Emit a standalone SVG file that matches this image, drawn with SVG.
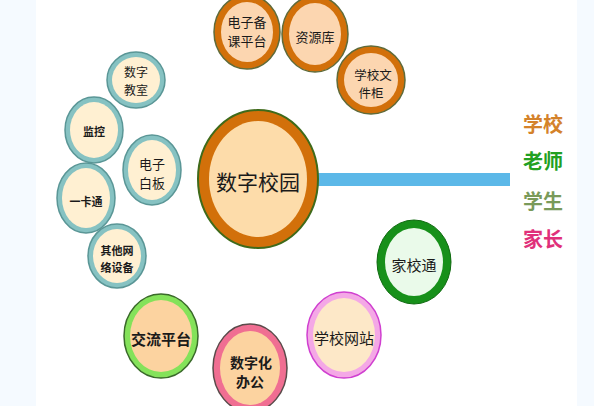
<svg xmlns="http://www.w3.org/2000/svg" width="594" height="406" viewBox="0 0 594 406">
<style>
text{font-family:"Noto Sans CJK SC","Noto Sans",sans-serif;text-anchor:middle;dominant-baseline:central;fill:#1a1a1a}
.o1{fill:#d2700a;stroke:#5f6b3a;stroke-width:1.5}
.o2{fill:#fcd6b0}
.t1{fill:#86c2c2;stroke:#5a9696;stroke-width:1.5}
.t2{fill:#fff0d2}
.s13{font-size:13px}
.b{font-weight:bold}
.lab{font-size:20px;font-weight:bold}
</style>
<rect x="0" y="0" width="594" height="406" fill="#ffffff"/>
<rect x="0" y="0" width="36" height="406" fill="#f5faff"/>
<rect x="577" y="0" width="17" height="406" fill="#f5faff"/>
<g id="connectors">
<rect x="314" y="173" width="196" height="13" fill="#5cb8e8"/>
</g>
<g id="center">
<ellipse cx="258" cy="179" rx="60" ry="69" fill="#d2700a" stroke="#3f6a1a" stroke-width="2"/>
<ellipse cx="258" cy="179" rx="49" ry="58" fill="#fddcaa"/>
<text x="258" y="181" style="font-size:21px">数字校园</text>
</g>
<g id="n-beike">
<ellipse class="o1" cx="247" cy="32" rx="33" ry="37"/>
<ellipse class="o2" cx="247" cy="32" rx="26" ry="30"/>
<text x="247" y="21" style="font-size:13px">电子备</text>
<text x="247" y="40" style="font-size:13px">课平台</text>
</g>
<g id="n-ziyuan">
<ellipse class="o1" cx="315" cy="34" rx="33" ry="38"/>
<ellipse class="o2" cx="315" cy="34" rx="26" ry="31"/>
<text class="s13" x="315" y="36">资源库</text>
</g>
<g id="n-wenjian">
<ellipse class="o1" cx="371" cy="80" rx="34" ry="34"/>
<ellipse class="o2" cx="371" cy="80" rx="27" ry="27"/>
<text x="373" y="74" style="font-size:12.5px">学校文</text>
<text x="371" y="92" style="font-size:12.5px">件柜</text>
</g>
<g id="n-jiaoshi">
<ellipse class="t1" cx="136" cy="80" rx="29" ry="28"/>
<ellipse class="t2" cx="136" cy="80" rx="24" ry="23"/>
<text x="136" y="71" style="font-size:12px">数字</text>
<text x="136" y="89" style="font-size:12px">教室</text>
</g>
<g id="n-jiankong">
<ellipse class="t1" cx="94" cy="130" rx="29" ry="33"/>
<ellipse class="t2" cx="94" cy="130" rx="24" ry="28"/>
<text class="b" x="94" y="131" style="font-size:11px">监控</text>
</g>
<g id="n-baiban">
<ellipse class="t1" cx="152" cy="170" rx="29" ry="35"/>
<ellipse class="t2" cx="152" cy="170" rx="24" ry="30"/>
<text x="152" y="163" style="font-size:13px">电子</text>
<text x="152" y="182" style="font-size:13px">白板</text>
</g>
<g id="n-yikatong">
<ellipse class="t1" cx="86" cy="198" rx="29" ry="35"/>
<ellipse class="t2" cx="86" cy="198" rx="24" ry="30"/>
<text class="b" x="86" y="201" style="font-size:11px">一卡通</text>
</g>
<g id="n-qita">
<ellipse class="t1" cx="117" cy="256" rx="29" ry="32"/>
<ellipse class="t2" cx="117" cy="256" rx="24" ry="27"/>
<text class="b" x="117" y="250" style="font-size:11px">其他网</text>
<text class="b" x="117" y="267" style="font-size:11px">络设备</text>
</g>
<g id="n-jiaoliu">
<ellipse cx="161" cy="336" rx="37" ry="42" fill="#84e25a" stroke="#3a6a2a" stroke-width="1.5"/>
<ellipse cx="161" cy="336" rx="31" ry="36" fill="#fcd3a0"/>
<text class="b" x="161" y="338" style="font-size:15px">交流平台</text>
</g>
<g id="n-bangong">
<ellipse cx="250" cy="368" rx="37" ry="44" fill="#f06e92" stroke="#5a4a4a" stroke-width="1.5"/>
<ellipse cx="250" cy="368" rx="30" ry="37" fill="#fcd3a0"/>
<text class="b" x="251" y="362" style="font-size:14px">数字化</text>
<text class="b" x="250" y="381" style="font-size:14px">办公</text>
</g>
<g id="n-wangzhan">
<ellipse cx="344" cy="335" rx="37" ry="43" fill="#f4a8e6" stroke="#d040d0" stroke-width="1.5"/>
<ellipse cx="344" cy="335" rx="31" ry="37" fill="#fde8c8"/>
<text x="344" y="337" style="font-size:15px">学校网站</text>
</g>
<g id="n-jiaxiaotong">
<ellipse cx="414" cy="262" rx="37" ry="42" fill="#17901a" stroke="#0f6a10" stroke-width="1"/>
<ellipse cx="414" cy="262" rx="29" ry="34" fill="#eafaea"/>
<text x="414" y="264" style="font-size:15px">家校通</text>
</g>
<g id="labels">
<text class="lab" x="543" y="123" style="fill:#d4822a">学校</text>
<text class="lab" x="543" y="160" style="fill:#22a022">老师</text>
<text class="lab" x="543" y="200" style="fill:#7a9a5a">学生</text>
<text class="lab" x="543" y="238" style="fill:#e0307a">家长</text>
</g>
</svg>
